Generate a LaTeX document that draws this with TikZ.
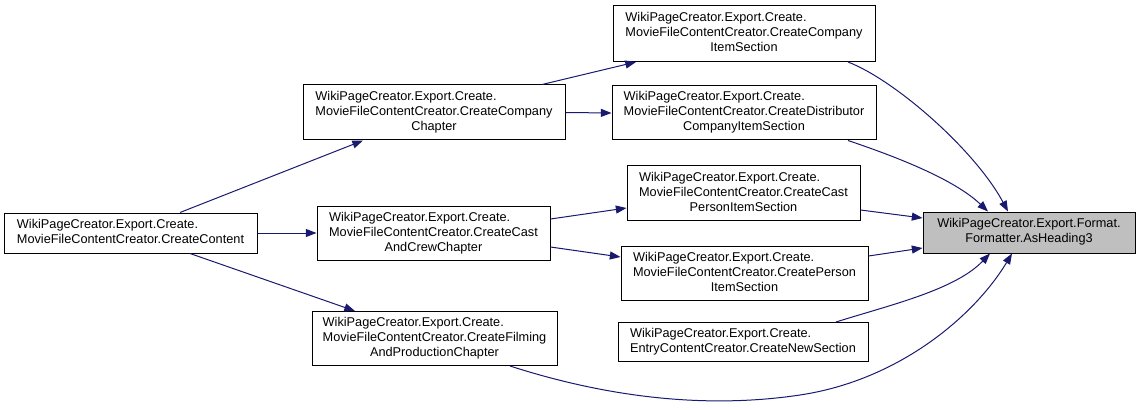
\documentclass[tikz,border=0pt]{standalone}
\usepackage{fontspec}
\setmainfont{Liberation Sans}
\usetikzlibrary{arrows.meta,calc}
\definecolor{midnight}{HTML}{191970}
\definecolor{hgray}{HTML}{BFBFBF}
\newcommand\mytxt[2]{\begin{tabular}{@{}l@{}}#1\\\multicolumn{1}{@{}c@{}}{#2}\end{tabular}}
\tikzset{
  fn/.style 2 args={draw=black, line width=0.75pt, fill=white, inner sep=0pt,
    minimum width={#1*0.75pt}, minimum height={#2*0.75pt},
    font=\fontsize{9.55}{11.25}\selectfont},
  callee/.style={fill=hgray},
  edge/.style={draw=midnight, line width=0.75pt, -{Triangle[length=8pt,width=6pt]}, fill=none}
}
\begin{document}
\begin{tikzpicture}[x=0.75pt,y=-0.75pt]
\useasboundingbox (0,0) rectangle (1140,410);
\node[fn={253}{40}] (content) at (130.5,233) {\mytxt{WikiPageCreator.Export.Create.}{MovieFileContentCreator.CreateContent}};
\node[fn={262}{55}] (cchap) at (434,112.5) {\mytxt{WikiPageCreator.Export.Create.\\MovieFileContentCreator.CreateCompany}{Chapter}};
\node[fn={233}{54}] (crew) at (433.5,233) {\mytxt{WikiPageCreator.Export.Create.\\MovieFileContentCreator.CreateCast}{AndCrewChapter}};
\node[fn={245}{54}] (film) at (434.5,338.5) {\mytxt{WikiPageCreator.Export.Create.\\MovieFileContentCreator.CreateFilming}{AndProductionChapter}};
\node[fn={262}{56}] (citem) at (744,33.5) {\mytxt{WikiPageCreator.Export.Create.\\MovieFileContentCreator.CreateCompany}{ItemSection}};
\node[fn={264}{54}] (dist) at (744,113) {\mytxt{WikiPageCreator.Export.Create.\\MovieFileContentCreator.CreateDistributor}{CompanyItemSection}};
\node[fn={233}{54}] (cast) at (743.5,193) {\mytxt{WikiPageCreator.Export.Create.\\MovieFileContentCreator.CreateCast}{PersonItemSection}};
\node[fn={247}{54}] (pers) at (744.5,273) {\mytxt{WikiPageCreator.Export.Create.\\MovieFileContentCreator.CreatePerson}{ItemSection}};
\node[fn={250}{39}] (news) at (743,342) {\mytxt{WikiPageCreator.Export.Create.}{EntryContentCreator.CreateNewSection}};
\node[fn={212}{41},callee] (head) at (1029,232.5) {\mytxt{WikiPageCreator.Export.Format.}{Formatter.AsHeading3}};

\draw[edge] ($(content.north)+(49.5,0)$) -- ($(cchap.south)+(-71,0)$);
\draw[edge] (content.east) -- (crew.west);
\draw[edge] ($(content.south)+(59.5,0)$) -- ($(film.north)+(-79.5,0)$);
\draw[edge] ($(cchap.north)+(108,0)$) -- ($(citem.south)+(-108,0)$);
\draw[edge] (cchap.east) -- (dist.west);
\draw[edge] ($(crew.east)+(0,-14)$) -- ($(cast.west)+(0,15)$);
\draw[edge] ($(crew.east)+(0,14)$) -- ($(pers.west)+(0,-16)$);
\draw[edge] ($(citem.south)+(104,0)$) .. controls (895,80) and (975,150) .. ($(head.north)+(-21,0)$);
\draw[edge] ($(dist.south)+(104,0)$) .. controls (900,158) and (955,180) .. ($(head.north)+(-41,0)$);
\draw[edge] ($(cast.east)+(0,17)$) -- ($(head.west)+(0,-14.5)$);
\draw[edge] ($(pers.east)+(0,-17)$) -- ($(head.west)+(0,15.5)$);
\draw[edge] ($(news.north)+(93,0)$) .. controls (890,305) and (955,290) .. ($(head.south)+(-39,0)$);
\draw[edge] ($(film.south)+(75.5,0)$) .. controls (600,395) and (700,410) .. (800,395) .. controls (900,380) and (975,315) .. ($(head.south)+(-17,0)$);
\end{tikzpicture}
\end{document}
